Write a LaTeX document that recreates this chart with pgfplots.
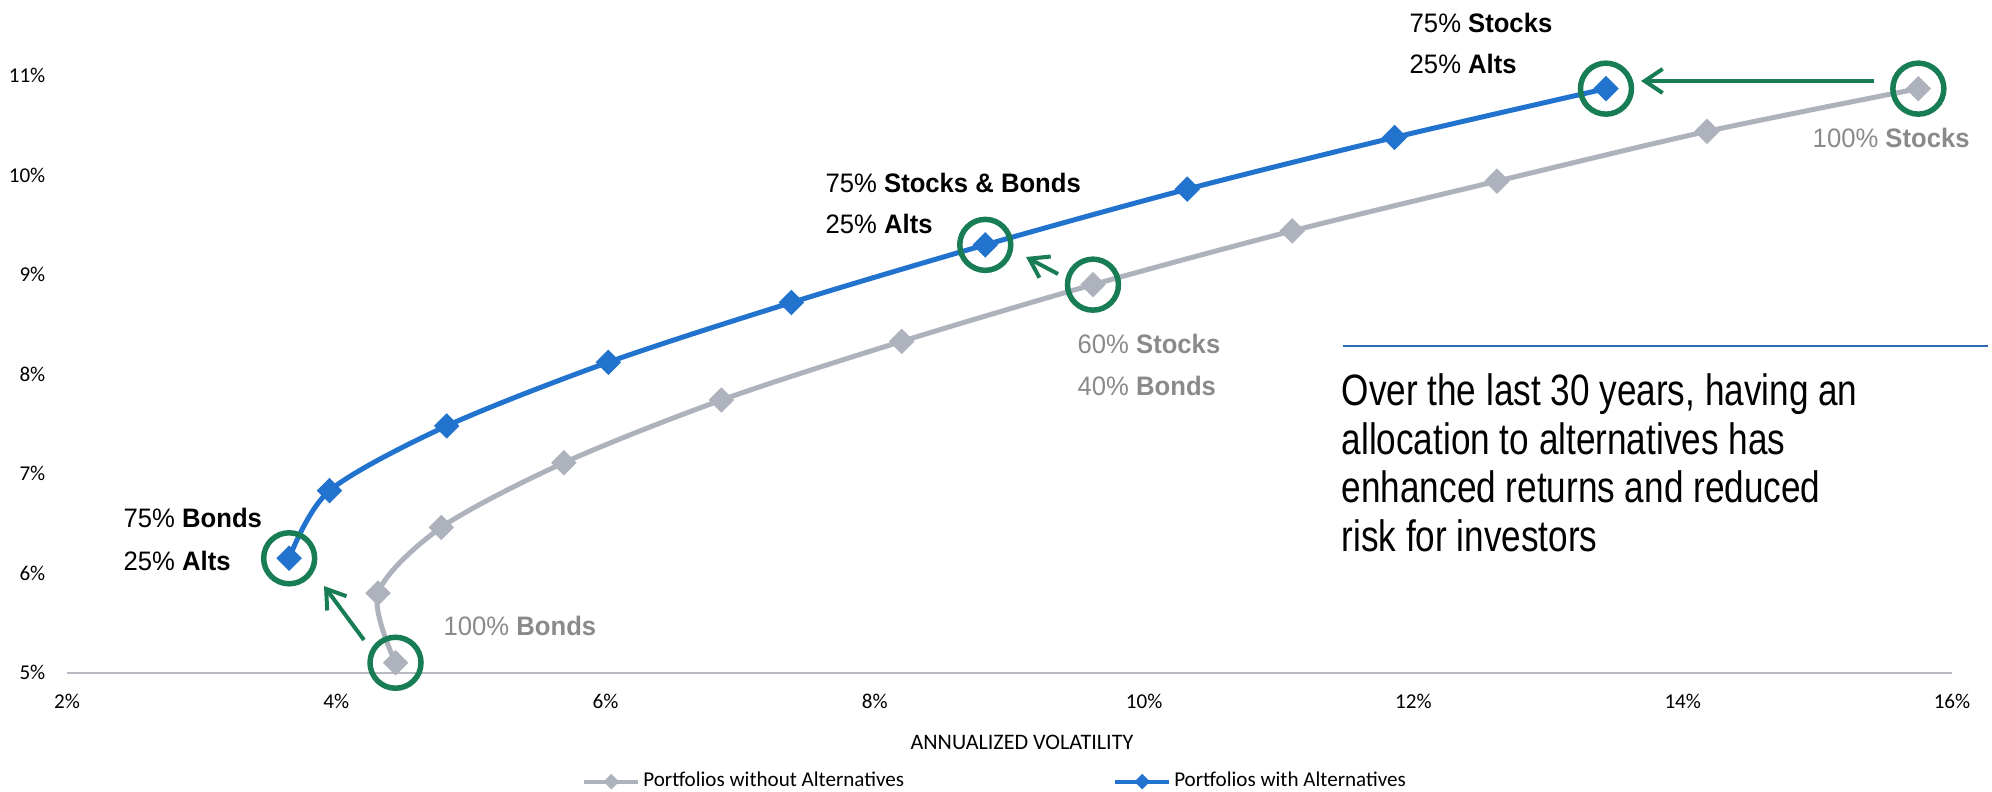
\documentclass[border=0pt]{standalone}
\usepackage{pgfplots}
\pgfplotsset{compat=1.18}
\usepackage{fontspec}
\setmainfont{Carlito}
\newfontfamily\annfont[FakeStretch=0.96]{Liberation Sans}
\newfontfamily\bigfont[FakeStretch=0.8]{Liberation Sans}
\usetikzlibrary{arrows.meta}
\definecolor{serblue}{RGB}{33,115,206}
\definecolor{sergray}{RGB}{174,178,188}
\definecolor{circgreen}{RGB}{24,125,85}
\definecolor{axgray}{RGB}{183,186,195}
\definecolor{txtgray}{RGB}{138,138,138}
\definecolor{sepblue}{RGB}{46,107,181}
\begin{document}
\begin{tikzpicture}
\path[use as bounding box] (0,0) rectangle (199.2mm,79.1mm);
\begin{axis}[
  at={(6.7mm,11.83mm)}, anchor=south west,
  scale only axis, width=188.5mm, height=59.7mm,
  xmin=2, xmax=16, ymin=5, ymax=11,
  clip=false,
  axis x line=bottom, axis y line=left,
  y axis line style={draw=none},
  x axis line style={draw=axgray, line width=0.2mm, -},
  major tick length=0pt,
  xtick={2,4,...,16}, ytick={5,...,11},
  xticklabels={2\%,4\%,6\%,8\%,10\%,12\%,14\%,16\%},
  yticklabels={5\%,6\%,7\%,8\%,9\%,10\%,11\%},
  tick label style={font=\fontsize{6}{7}\selectfont, text=black},
  xticklabel style={anchor=center},
  xticklabel shift=2.9mm,
  yticklabel style={anchor=east, inner xsep=0pt},
  yticklabel shift=2.1mm,
  xlabel={ANNUALIZED VOLATILITY},
  xlabel style={at={(axis description cs:0.5066,-0.1173)}, anchor=center, font=\fontsize{6.3}{7}\selectfont},
  legend columns=2,
  legend cell align=left,
  legend style={at={(axis description cs:0.273,-0.1826)}, anchor=west, draw=none, fill=none,
    font=\fontsize{6}{7}\selectfont, inner sep=0pt,
    nodes={inner xsep=0.3mm, inner ysep=0.2mm},
    /tikz/every even column/.append style={column sep=20.6mm}},
  legend image code/.code={\draw[mark repeat=2,mark phase=2,#1,line width=0.4mm,mark size=0.5mm] plot coordinates {(0mm,0mm) (2.7mm,0mm) (5.4mm,0mm)};},
]
\addplot[sergray, line width=0.5mm, smooth, mark=square*, mark size=0.85mm,
  mark options={rotate=45, solid, fill=sergray, draw=sergray, line width=0.1mm}]
  coordinates {(4.44,5.10) (4.31,5.80) (4.78,6.46) (5.69,7.11) (6.86,7.74) (8.20,8.33)
               (9.62,8.90) (11.10,9.44) (12.62,9.94) (14.18,10.44) (15.75,10.87)};
\addlegendentry{Portfolios without Alternatives}
\addplot[serblue, line width=0.5mm, smooth, mark=square*, mark size=0.85mm,
  mark options={rotate=45, solid, fill=serblue, draw=serblue, line width=0.1mm}]
  coordinates {(3.65,6.15) (3.95,6.83) (4.82,7.48) (6.02,8.12) (7.38,8.72)
               (8.82,9.30) (10.32,9.86) (11.86,10.38) (13.43,10.87)};
\addlegendentry{Portfolios with Alternatives}
\addplot[only marks, forget plot, mark=o, mark size=2.55mm,
  mark options={draw=circgreen, line width=0.55mm}]
  coordinates {(3.65,6.15) (8.82,9.30) (13.43,10.87) (4.44,5.10) (9.62,8.90) (15.75,10.87)};
\end{axis}
\begin{scope}[shift={(0,79.1mm)}, x=0.1mm, y=-0.1mm]
\tikzset{garrow/.style={circgreen, line width=0.4mm, -{Straight Barb[length=1.8mm,width=2.4mm]}},
  lab/.style={anchor=base west, inner sep=0pt, font=\annfont\fontsize{7.6}{9}\selectfont},
  big/.style={anchor=base west, inner sep=0pt, font=\bigfont\fontsize{12.5}{13.8}\selectfont}}
\draw[garrow] (1873.6,81) -- (1641,81);
\draw[garrow] (364,640) -- (324,586);
\draw[garrow] (1058,274) -- (1026,257);
\draw[sepblue, line width=0.15mm] (1343,346) -- (1987.5,346);
\node[lab] at (1409,32.2) {75\% \textbf{Stocks}};
\node[lab] at (1409,73.5) {25\% \textbf{Alts}};
\node[lab, text=txtgray] at (1812,147.5) {100\% \textbf{Stocks}};
\node[lab] at (825,192.2) {75\% \textbf{Stocks \& Bonds}};
\node[lab] at (825,233.5) {25\% \textbf{Alts}};
\node[lab, text=txtgray] at (1077,353.5) {60\% \textbf{Stocks}};
\node[lab, text=txtgray] at (1077,395.2) {40\% \textbf{Bonds}};
\node[lab] at (123,527.5) {75\% \textbf{Bonds}};
\node[lab] at (123,570.2) {25\% \textbf{Alts}};
\node[lab, text=txtgray] at (443,635.5) {100\% \textbf{Bonds}};
\node[big] at (1341,405.5) {Over the last 30 years, having an};
\node[big] at (1341,454) {allocation to alternatives has};
\node[big] at (1341,502.5) {enhanced returns and reduced};
\node[big] at (1341,551) {risk for investors};
\end{scope}
\end{tikzpicture}
\end{document}
